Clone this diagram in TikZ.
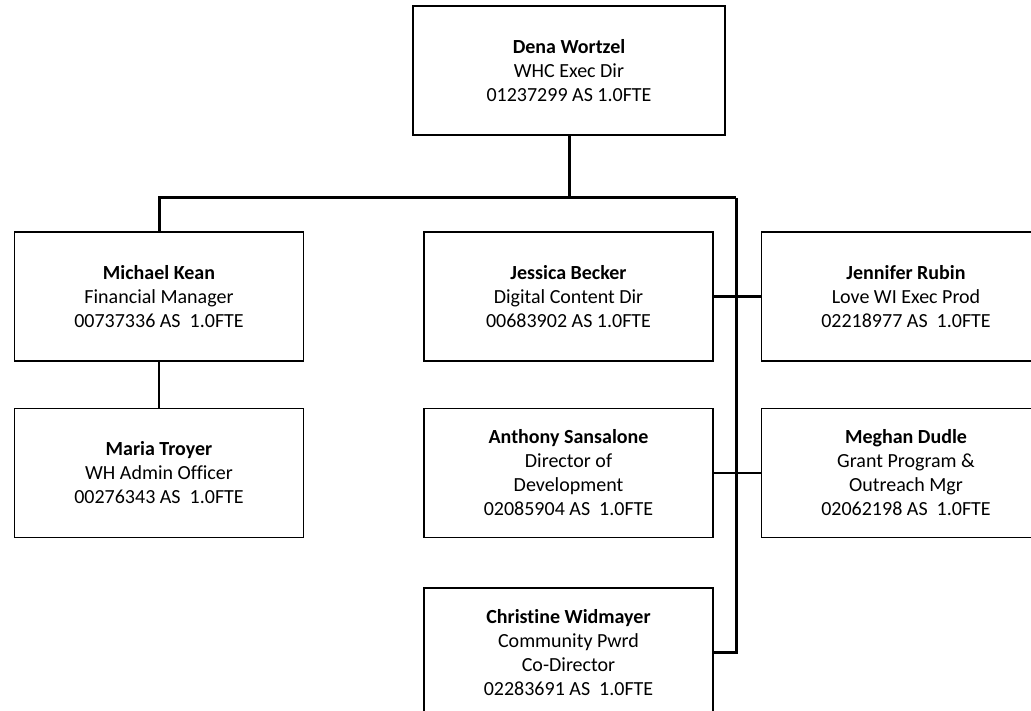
\documentclass[tikz,border=0pt]{standalone}
\usepackage{fontspec}
\setmainfont[Ligatures=NoCommon]{Carlito}
\usetikzlibrary{positioning}

\begin{document}
\begin{tikzpicture}[x=1pt,y=1pt]
\tikzstyle{person}=[rectangle,draw,line width=1.5pt,minimum height=129pt,minimum width=289pt,
    align=center,font=\fontsize{20}{24}\selectfont]
\tikzstyle{bus}=[line width=3pt]
\tikzstyle{branch}=[line width=2.5pt]
\useasboundingbox (0,0) rectangle (1031,-711);

\node[person,minimum width=312pt] (dena) at (569,-70.5)
    {\textbf{Dena Wortzel}\\WHC Exec Dir\\01237299 AS 1.0FTE};
\node[person] (michael) at (159,-296.5)
    {\textbf{Michael Kean}\\Financial Manager\\00737336 AS~~1.0FTE};
\node[person,below=46pt of michael] (maria)
    {\textbf{Maria Troyer}\\WH Admin Officer\\00276343 AS~~1.0FTE};
\node[person] (jessica) at (568.5,-296.5)
    {\textbf{Jessica Becker}\\Digital Content Dir\\00683902 AS 1.0FTE};
\node[person,right=47pt of jessica] (jennifer)
    {\textbf{Jennifer Rubin}\\Love WI Exec Prod\\02218977 AS~~1.0FTE};
\node[person,below=46pt of jessica] (anthony)
    {\textbf{Anthony Sansalone}\\Director of\\Development\\02085904 AS~~1.0FTE};
\node[person,right=47pt of anthony] (meghan)
    {\textbf{Meghan Dudle}\\Grant Program \&\\Outreach Mgr\\02062198 AS~~1.0FTE};
\node[person,below=49pt of anthony] (christine)
    {\textbf{Christine Widmayer}\\Community Pwrd\\Co-Director\\02283691 AS~~1.0FTE};

\coordinate (trunk) at (736,-198);

\draw[bus] (dena.south) |- (trunk);
\draw[bus] (trunk) -| (michael.north);
\draw[bus] (trunk) -- (trunk |- christine.east) -- (christine.east);
\draw[branch] (michael.south) -- (maria.north);
\draw[branch] (jessica.east) -- (jennifer.west);
\draw[branch] (anthony.east) -- (meghan.west);
\end{tikzpicture}
\end{document}
